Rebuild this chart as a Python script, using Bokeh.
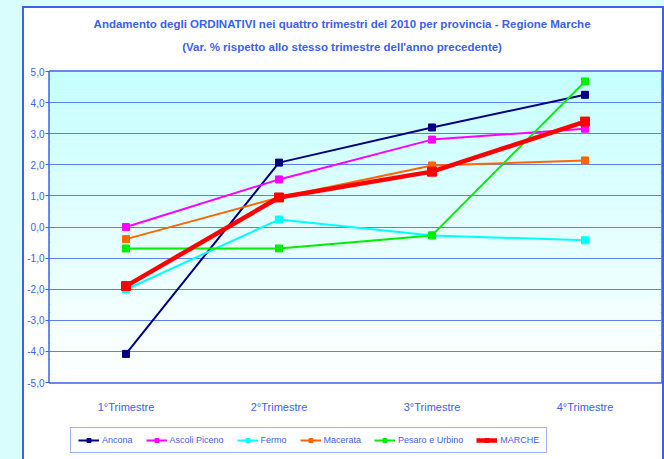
from bokeh.plotting import figure
from bokeh.layouts import column
from bokeh.models import Legend, LegendItem, FixedTicker, Label
from bokeh.embed import file_html
from bokeh.resources import INLINE

# ---- data ----
quarters = ["1°Trimestre", "2°Trimestre", "3°Trimestre", "4°Trimestre"]
ancona = [-40.8, 20.7, 32.0, 42.5]
ascoli_piceno = [0.0, 15.3, 28.1, 31.6]
fermo = [-20.1, 2.4, -2.7, -4.3]
macerata = [-3.9, 9.5, 19.8, 21.4]
pesaro_urbino = [-6.9, -6.9, -2.7, 46.8]
marche = [-19.0, 9.5, 17.8, 33.9]
series_names = ["Ancona", "Ascoli Piceno", "Fermo", "Macerata", "Pesaro e Urbino", "MARCHE"]
y_ticks = [-50, -40, -30, -20, -10, 0, 10, 20, 30, 40, 50]
y_tick_labels = ["-5,0", "-4,0", "-3,0", "-2,0", "-1,0", "0,0", "1,0", "2,0", "3,0", "4,0", "5,0"]
title_1 = "Andamento degli ORDINATIVI nei quattro trimestri del 2010 per provincia - Regione Marche"
title_2 = "(Var. % rispetto allo stesso trimestre dell'anno precedente)"

BLUE = "#3a62ee"
FONT = "Liberation Sans"

xs = list(range(len(quarters)))
colors = ["#000080", "#ff00ff", "#00ffff", "#ff6600", "#00ee00", "#ff0000"]
widths = [2, 2, 2, 2, 2, 4.5]
msizes = [7, 7, 7, 7, 7, 9]
all_series = [ancona, ascoli_piceno, fermo, macerata, pesaro_urbino, marche]


def bare(fig):
    fig.axis.visible = False
    fig.grid.visible = False
    fig.outline_line_color = None
    fig.border_fill_color = "white"
    fig.background_fill_color = "white"


# ---------------- title strip ----------------
tf = figure(width=638, height=55, output_backend="svg", toolbar_location=None,
            x_range=(0, 638), y_range=(0, 55), min_border=0)
bare(tf)
tf.add_layout(Label(x=305, y=40, text=title_1, text_align="center", text_baseline="middle",
                    text_font=FONT, text_font_style="bold", text_font_size="11.5px",
                    text_color=BLUE))
tf.add_layout(Label(x=305, y=17, text=title_2, text_align="center", text_baseline="middle",
                    text_font=FONT, text_font_style="bold", text_font_size="11.5px",
                    text_color=BLUE))

# ---------------- main chart ----------------
p = figure(width=638, height=355, output_backend="svg", toolbar_location=None,
           x_range=(-0.5, 3.5), y_range=(-50, 50),
           min_border_left=22, min_border_right=1, min_border_top=8, min_border_bottom=36)
p.border_fill_color = "white"
p.background_fill_color = "white"
p.outline_line_color = BLUE
p.outline_line_width = 2.5

# gradient background of plot area (style only): cyan at top to white at bottom
n = 40
for i in range(n):
    t = i / (n - 1)
    r = int(0xc6 + (0xff - 0xc6) * t)
    col = "#%02x%02x%02x" % (r, 255, 255)
    tp = 50 - i * 100 / n
    b = 50 - (i + 1) * 100 / n
    p.quad(left=-0.5, right=3.5, bottom=b, top=tp, fill_color=col, line_color=None, level="image")

p.xaxis.ticker = FixedTicker(ticks=xs)
p.xaxis.major_label_overrides = {i: q for i, q in enumerate(quarters)}
p.xaxis.axis_line_color = None
p.xaxis.major_tick_line_color = None
p.xaxis.major_tick_in = 0
p.xaxis.major_tick_out = 0
p.xaxis.minor_tick_line_color = None
p.xaxis.major_label_standoff = 18
p.xaxis.major_label_text_font = FONT
p.xaxis.major_label_text_font_size = "11px"
p.xaxis.major_label_text_color = BLUE

p.yaxis.ticker = FixedTicker(ticks=y_ticks)
p.yaxis.major_label_overrides = {t: l for t, l in zip(y_ticks, y_tick_labels)}
p.yaxis.axis_line_color = None
p.yaxis.major_tick_line_color = BLUE
p.yaxis.major_tick_in = 0
p.yaxis.major_tick_out = 4
p.yaxis.minor_tick_line_color = None
p.yaxis.major_label_standoff = 1
p.yaxis.major_label_text_font = FONT
p.yaxis.major_label_text_font_size = "10px"
p.yaxis.major_label_text_color = BLUE

p.xgrid.grid_line_color = None
p.ygrid.grid_line_color = "#5c80f2"
p.ygrid.grid_line_width = 1

for ys, c, w, ms in zip(all_series, colors, widths, msizes):
    p.line(xs, ys, line_color=c, line_width=w)
    p.scatter(xs, ys, marker="square", size=ms, fill_color=c, line_color=c)

# ---------------- legend strip ----------------
# series drawn again out of view (x range far away) only to feed the legend glyphs
lf = figure(width=638, height=41, output_backend="svg", toolbar_location=None,
            x_range=(100, 101), y_range=(0, 1), min_border=0)
bare(lf)
items = []
for name, ys, c, w, ms in zip(series_names, all_series, colors, widths, msizes):
    lr = lf.line(xs, ys, line_color=c, line_width=w)
    sr = lf.scatter(xs, ys, marker="square", size=ms - 1, fill_color=c, line_color=c)
    items.append(LegendItem(label=name, renderers=[lr, sr]))
legend = Legend(items=items, orientation="horizontal", location=(21, 6),
                label_text_font=FONT, label_text_font_size="9px", label_text_color=BLUE,
                glyph_width=21, glyph_height=10, label_standoff=3, spacing=13,
                padding=7, margin=0, border_line_color=BLUE, border_line_width=1.5,
                background_fill_color="white", background_fill_alpha=1)
lf.add_layout(legend, "center")

layout = column(tf, p, lf, spacing=0)
layout.styles = {"margin-left": "22px", "margin-top": "6px",
                 "border-left": "2px solid " + BLUE, "border-right": "2px solid " + BLUE,
                 "border-top": "2px solid " + BLUE, "background": "white"}

html = file_html(layout, INLINE)
html = html.replace("</head>", "<style>html, body { background: #d9fdfd; }</style></head>", 1)
open("out.html", "w").write(html)
